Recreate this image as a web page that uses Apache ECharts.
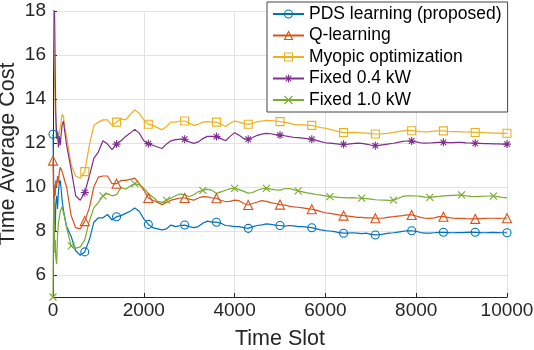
<!DOCTYPE html>
<html>
<head>
<meta charset="utf-8">
<script src="https://cdn.jsdelivr.net/npm/echarts@6/dist/echarts.min.js"></script>
<style>
  html, body { margin: 0; padding: 0; background: #fff; }
  #chart { width: 534px; height: 350px; }
</style>
</head>
<body>
<div id="chart"></div>
<script>
// time slots (dense at the very start, then every 100 slots)
const slots = [0, 10, 20, 30, 40, 50, 60, 80, 100, 120, 140, 160, 180, 200, 230, 260,
  300, 400, 500, 600, 700, 800, 900,
  1000, 1100, 1200, 1300, 1400, 1500, 1600, 1700, 1800, 1900,
  2000, 2100, 2200, 2300, 2400, 2500, 2600, 2700, 2800, 2900,
  3000, 3100, 3200, 3300, 3400, 3500, 3600, 3700, 3800, 3900,
  4000, 4100, 4200, 4300, 4400, 4500, 4600, 4700, 4800, 4900,
  5000, 5100, 5200, 5300, 5400, 5500, 5600, 5700, 5800, 5900,
  6000, 6100, 6200, 6300, 6400, 6500, 6600, 6700, 6800, 6900,
  7000, 7100, 7200, 7300, 7400, 7500, 7600, 7700, 7800, 7900,
  8000, 8100, 8200, 8300, 8400, 8500, 8600, 8700, 8800, 8900,
  9000, 9100, 9200, 9300, 9400, 9500, 9600, 9700, 9800, 9900,
  10000]

const pdsCost = [12.4, 11.0, 9.5, 8.4, 9.0, 8.0, 9.2, 9.6, 9.0, 9.8, 10.2, 10.3, 9.9, 9.4, 8.95, 8.6,
  8.2, 7.75, 7.1, 6.9, 7.05, 7.6, 8.4,
  8.6, 8.6, 8.75, 8.5, 8.65, 8.7, 8.8, 8.9, 9.05, 8.9,
  8.55, 8.3, 8.15, 8.1, 8.05, 8.1, 8.27, 8.2, 8.25, 8.27,
  8.2, 8.15, 8.2, 8.35, 8.45, 8.4, 8.4, 8.35, 8.25, 8.23,
  8.2, 8.2, 8.15, 8.12, 8.2, 8.25, 8.28, 8.32, 8.3, 8.27,
  8.25, 8.22, 8.25, 8.23, 8.2, 8.2, 8.18, 8.15, 8.1, 8.05,
  8.02, 8.0, 7.97, 7.93, 7.9, 7.9, 7.92, 7.9, 7.88, 7.9,
  7.85, 7.82, 7.83, 7.87, 7.9, 7.92, 7.95, 7.98, 8.01, 8.01,
  7.98, 7.93, 7.9, 7.9, 7.92, 7.94, 7.94, 7.93, 7.92, 7.93,
  7.93, 7.94, 7.95, 7.94, 7.93, 7.92, 7.93, 7.94, 7.93, 7.92,
  7.92]

const qCost = [11.2, 10.0, 8.8, 9.8, 10.1, 9.6, 10.3, 10.0, 10.5, 10.2, 10.7, 10.9, 10.85, 10.7, 10.5, 10.25,
  10.0, 8.7, 8.15, 8.1, 8.45, 9.05, 10.0,
  10.45, 10.5, 10.5, 10.15, 10.15, 10.3, 10.3, 10.35, 10.4, 10.15,
  9.85, 9.5, 9.4, 9.3, 9.2, 9.3, 9.4, 9.45, 9.5, 9.5,
  9.45, 9.4, 9.5, 9.56, 9.55, 9.5, 9.49, 9.4, 9.33, 9.35,
  9.4, 9.38, 9.25, 9.18, 9.25, 9.32, 9.38, 9.35, 9.29, 9.25,
  9.2, 9.18, 9.13, 9.1, 9.08, 9.05, 9.02, 8.99, 8.95, 8.88,
  8.83, 8.8, 8.77, 8.73, 8.7, 8.68, 8.65, 8.62, 8.62, 8.6,
  8.6, 8.58, 8.58, 8.6, 8.63, 8.65, 8.68, 8.7, 8.73, 8.73,
  8.68, 8.62, 8.58, 8.57, 8.6, 8.65, 8.65, 8.62, 8.58, 8.57,
  8.58, 8.56, 8.55, 8.55, 8.56, 8.57, 8.58, 8.58, 8.57, 8.58,
  8.58]

const myopicCost = [22, 19, 17, 15.5, 14.4, 13.5, 12.8, 12.2, 12.6, 12.1, 12.5, 12.7, 13.0, 13.3, 13.2, 12.7,
  12.3, 11.0, 10.5, 10.4, 10.7, 11.9, 12.8,
  12.95, 13.05, 13.05, 12.8, 12.95, 13.1, 13.05, 13.3, 13.5, 13.35,
  13.05, 12.85, 12.8, 12.7, 12.6, 12.75, 12.95, 12.95, 13.0, 13.0,
  12.9, 12.8, 12.85, 12.95, 12.97, 12.95, 12.95, 12.85, 12.75, 12.9,
  13.0, 12.95, 12.88, 12.85, 12.9, 12.97, 13.0, 13.03, 13.02, 13.0,
  12.97, 12.95, 12.9, 12.85, 12.82, 12.82, 12.8, 12.8, 12.75, 12.7,
  12.67, 12.62, 12.57, 12.52, 12.47, 12.47, 12.48, 12.47, 12.46, 12.45,
  12.43, 12.41, 12.41, 12.43, 12.45, 12.48, 12.52, 12.55, 12.57, 12.56,
  12.54, 12.52, 12.51, 12.52, 12.54, 12.55, 12.55, 12.53, 12.52, 12.52,
  12.51, 12.5, 12.49, 12.48, 12.48, 12.47, 12.46, 12.45, 12.45, 12.44,
  12.44]

const fixed04Cost = [25, 22, 20, 18.5, 17, 15, 13.5, 12.2, 12.5, 11.8, 12.3, 11.9, 12.4, 12.8, 13.0, 12.5,
  11.9, 10.8, 9.6, 9.4, 9.75, 10.5, 11.3,
  11.6, 12.1, 11.95, 11.7, 11.95, 12.1, 12.3, 12.45, 12.62, 12.45,
  12.1, 11.97, 11.9, 11.82, 11.75, 11.95, 12.1, 12.15, 12.18, 12.17,
  12.05, 11.98, 12.05, 12.2, 12.3, 12.3, 12.29, 12.2, 12.1, 12.3,
  12.47, 12.35, 12.2, 12.17, 12.25, 12.35, 12.4, 12.44, 12.42, 12.38,
  12.36, 12.33, 12.29, 12.26, 12.24, 12.22, 12.2, 12.17, 12.12, 12.06,
  12.01, 11.99, 11.97, 11.95, 11.94, 11.95, 11.97, 11.99, 11.98, 11.95,
  11.91, 11.88, 11.9, 11.93, 11.96, 11.99, 12.03, 12.07, 12.09, 12.09,
  12.05, 12.01, 11.99, 12.0, 12.02, 12.03, 12.03, 12.02, 12.02, 12.03,
  12.03, 12.01, 12.0, 11.99, 11.98, 11.97, 11.97, 11.96, 11.96, 11.95,
  11.95]

const fixed10Cost = [5, 8.5, 9.5, 8.0, 7.0, 7.6, 6.8, 6.5, 7.8, 8.4, 8.6, 8.9, 9.0, 9.1, 9.05, 8.6,
  8.15, 7.32, 7.22, 7.28, 7.6, 8.45, 9.05,
  9.3, 9.6, 9.7, 9.6, 9.65, 9.98, 9.9, 10.05, 10.15, 10.1,
  9.95, 9.7, 9.55, 9.35, 9.3, 9.4, 9.5, 9.6, 9.68, 9.65,
  9.56, 9.65, 9.78, 9.85, 9.9, 9.85, 9.71, 9.78, 9.85, 9.92,
  9.94, 9.88, 9.8, 9.72, 9.75, 9.85, 9.92, 9.94, 9.9, 9.87,
  9.86, 9.92, 9.93, 9.88, 9.82, 9.78, 9.73, 9.7, 9.66, 9.63,
  9.6, 9.56, 9.55, 9.53, 9.52, 9.51, 9.52, 9.5, 9.49, 9.47,
  9.45, 9.42, 9.41, 9.4, 9.39, 9.4, 9.48, 9.57, 9.6, 9.6,
  9.59, 9.57, 9.54, 9.53, 9.55, 9.57, 9.6, 9.61, 9.62, 9.63,
  9.64, 9.6, 9.57, 9.56, 9.57, 9.58, 9.59, 9.59, 9.56, 9.53,
  9.51]

// slots that carry a marker
const markSlots = [0, 700, 1400, 2100, 2900, 3600, 4300, 5000, 5700, 6400, 7100, 7900, 8600, 9300, 10000]
const markSlotsFixed10 = [0, 400, 1100, 1800, 2500, 3300, 4000, 4700, 5400, 6100, 6800, 7500, 8300, 9000, 9700]

const yTicks = [6, 8, 10, 12, 14, 16, 18]

const STAR = 'path://M5 0L5 10M0 5L10 5M1.5 1.5L8.5 8.5M8.5 1.5L1.5 8.5'
const CROSS = 'path://M0 0L10 10M10 0L0 10'
const FONT = 'Liberation Sans, Arial, Helvetica, sans-serif'

function makeSeries(name, values, color, shape, size, marks) {
  return {
    name: name,
    type: 'line',
    // only the marked slots keep the series symbol
    data: slots.map((s, i) => {
      const item = { value: [s, values[i]] }
      if (marks.indexOf(s) < 0) item.symbol = 'none'
      return item
    }),
    symbol: shape,
    symbolSize: size,
    showAllSymbol: true,
    lineStyle: { color: color, width: 1.2 },
    itemStyle: { color: 'rgba(255,255,255,0)', borderColor: color, borderWidth: 1.1 },
    emphasis: { disabled: true },
    clip: true,
    silent: true
  }
}

const chart = echarts.init(document.getElementById('chart'), null, { renderer: 'canvas' })
chart.setOption({
  animation: false,
  backgroundColor: '#fff',
  textStyle: { fontFamily: FONT },
  grid: { left: 53, right: 27, top: 11, bottom: 53, containLabel: false, outerBoundsMode: 'none' },
  legend: {
    orient: 'vertical',
    left: 267,
    top: 2,
    padding: [3, 6, 3, 5],
    itemGap: 3.5,
    itemWidth: 31,
    itemHeight: 10,
    backgroundColor: '#fff',
    borderColor: '#444',
    borderWidth: 1,
    borderRadius: 0,
    itemStyle: { borderWidth: 1.1 },
    textStyle: { fontSize: 17.5, color: '#000', fontFamily: FONT },
    data: ['PDS learning (proposed)', 'Q-learning', 'Myopic optimization', 'Fixed 0.4 kW', 'Fixed 1.0 kW']
  },
  xAxis: {
    type: 'value',
    min: 0,
    max: 10000,
    interval: 2000,
    name: 'Time Slot',
    nameLocation: 'middle',
    nameGap: 31,
    nameMoveOverlap: false,
    nameTextStyle: { fontSize: 21.5, color: '#262626', fontFamily: FONT },
    axisLine: { show: true, onZero: false, lineStyle: { color: '#262626', width: 1 } },
    axisTick: { show: true, inside: true, length: 4, lineStyle: { color: '#262626' } },
    axisLabel: { fontSize: 19, color: '#262626', margin: 4, fontFamily: FONT, formatter: (v) => String(v) },
    splitLine: { show: true, lineStyle: { color: '#e3e3e3', width: 1 } }
  },
  yAxis: {
    type: 'value',
    min: 5,
    max: 18,
    name: 'Time Average Cost',
    nameLocation: 'middle',
    nameGap: 34,
    nameMoveOverlap: false,
    nameTextStyle: { fontSize: 21.5, color: '#262626', fontFamily: FONT },
    axisLine: { show: true, onZero: false, lineStyle: { color: '#262626', width: 1 } },
    axisTick: { show: true, inside: true, length: 4, customValues: yTicks, lineStyle: { color: '#262626' } },
    axisLabel: { fontSize: 19, color: '#262626', margin: 7, customValues: yTicks, fontFamily: FONT },
    splitLine: { show: true, lineStyle: { color: '#e3e3e3', width: 1 } }
  },
  series: [
    makeSeries('PDS learning (proposed)', pdsCost, '#0072BD', 'circle', 8, markSlots),
    makeSeries('Q-learning', qCost, '#D95319', 'triangle', 9, markSlots),
    makeSeries('Myopic optimization', myopicCost, '#EDB120', 'rect', 8, markSlots),
    makeSeries('Fixed 0.4 kW', fixed04Cost, '#7E2F8E', STAR, 8, markSlots),
    makeSeries('Fixed 1.0 kW', fixed10Cost, '#77AC30', CROSS, 7, markSlotsFixed10)
  ]
})
</script>
</body>
</html>
